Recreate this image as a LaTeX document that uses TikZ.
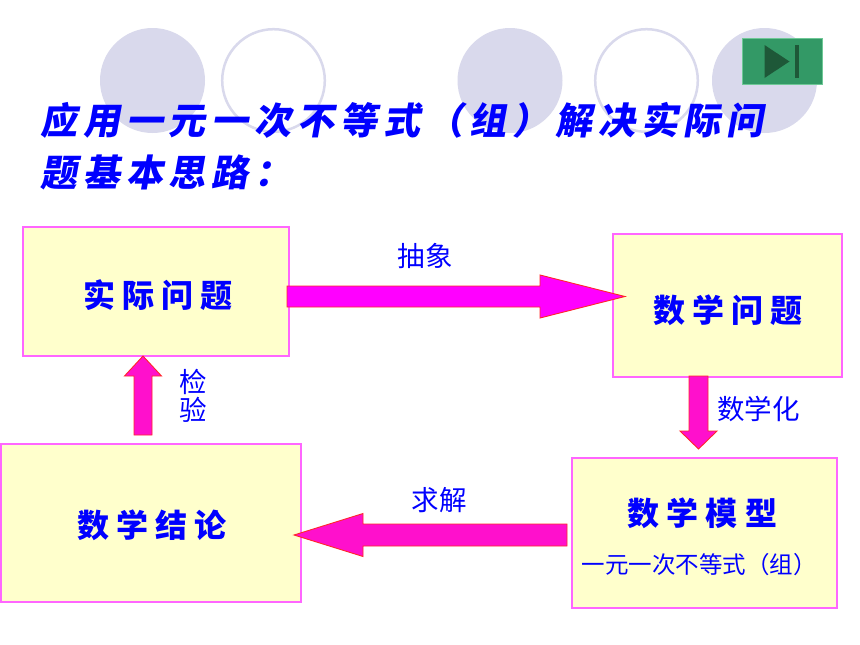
\documentclass[tikz,border=0pt]{standalone}
\usepackage{fontspec}
\usetikzlibrary{calc}
\newfontfamily\cjk{Noto Sans CJK SC}
\newfontfamily\titlefont{Noto Sans CJK SC Black}[FakeSlant=0.18,LetterSpace=16]
\newfontfamily\boxfont{Noto Sans CJK SC Black}[LetterSpace=22]
\definecolor{lav}{RGB}{217,217,236}
\definecolor{boxfill}{RGB}{255,255,204}
\definecolor{boxline}{RGB}{255,102,255}
\definecolor{arrmag}{RGB}{255,0,255}
\definecolor{arrpink}{RGB}{255,16,204}
\definecolor{arrline}{RGB}{255,40,40}
\definecolor{btn}{RGB}{51,153,102}
\definecolor{btnline}{RGB}{110,200,150}
\definecolor{btndark}{RGB}{30,88,56}
\definecolor{txtblue}{RGB}{0,0,255}
% #1 style, #2 start, #3 end, #4 shaft half width, #5 head half width, #6 head length
\newcommand\blockarrow[6]{%
  \coordinate (headbase) at ($(#3)!#6!(#2)$);
  \draw[#1] ($(#2)!#4!90:(#3)$) -- ($(headbase)!#4!90:(#3)$) -- ($(headbase)!#5!90:(#3)$)
    -- (#3) -- ($(headbase)!#5!-90:(#3)$) -- ($(headbase)!#4!-90:(#3)$) -- ($(#2)!#4!-90:(#3)$) -- cycle;
}
\begin{document}
\begin{tikzpicture}[x=1pt,y=-1pt,
  deco/.style={fill=lav,draw=none},
  ring/.style={draw=lav,line width=2.5pt,fill=none},
  box/.style={draw=boxline,fill=boxfill,line width=1.2pt,rectangle,inner sep=0},
  boxtext/.style={font=\boxfont\fontsize{32}{34}\selectfont,text=txtblue,inner sep=0},
  lbl/.style={font=\cjk\fontsize{27.5}{29}\selectfont,text=txtblue,inner sep=0},
  titletext/.style={font=\titlefont\fontsize{37}{40}\selectfont,text=txtblue,inner sep=0,anchor=west},
  barrowA/.style={fill=arrmag,draw=arrline,line width=0.9pt,line join=miter},
  barrowB/.style={fill=arrpink,draw=arrline,line width=0.9pt,line join=miter}]
\useasboundingbox (0,0) rectangle (860,645);
\fill[white] (0,0) rectangle (860,645);
% decorative circles
\fill[deco] (152.5,80.5) circle[radius=52.5];
\draw[ring] (273.5,80.5) circle[radius=51.3];
\fill[deco] (510,80.5) circle[radius=52.5];
\draw[ring] (646.5,80.5) circle[radius=51.3];
\fill[deco] (764.5,80.5) circle[radius=52.5];
% button
\draw[fill=btn,draw=btnline,line width=0.8pt] (742,38) rectangle (822,84);
\fill[btndark] (764.5,45) -- (789.5,61.5) -- (764.5,78) -- cycle;
\fill[btndark] (795,45) rectangle (798.5,78);
% title
\node[titletext] (t1) at (40,120) {应用一元一次不等式（组）解决实际问};
\node[titletext] (t2) at (40,172) {题基本思路：};
% boxes
\node[box,minimum width=266pt,minimum height=129pt] (shiji) at (156,291.5) {};
\node[box,minimum width=229pt,minimum height=143pt] (wenti) at (727.5,305.5) {};
\node[box,minimum width=265pt,minimum height=150pt] (moxing) at (704.5,533) {};
\node[box,minimum width=300pt,minimum height=158pt] (jielun) at (151,523) {};
\node[boxtext] (shijiT) at (158,295) {实际问题};
\node[boxtext] (wentiT) at (728,310) {数学问题};
\node[boxtext] (moxingT) at (702.5,513) {数学模型};
\node[font=\cjk\fontsize{23.5}{25}\selectfont,text=txtblue,inner sep=0] (moxingS) at (699,565) {一元一次不等式（组）};
\node[boxtext] (jielunT) at (152,525) {数学结论};
% arrows
\coordinate (a1s) at (287,296.5);
\coordinate (a1e) at (625,296.5);
\blockarrow{barrowA}{a1s}{a1e}{10.5pt}{21.5pt}{85pt}
\coordinate (a2s) at (698.5,376);
\coordinate (a2e) at (698.5,449);
\blockarrow{barrowB}{a2s}{a2e}{9.5pt}{18.5pt}{18pt}
\coordinate (a3s) at (567,535);
\coordinate (a3e) at (294,535);
\blockarrow{barrowB}{a3s}{a3e}{11pt}{21.5pt}{69pt}
\coordinate (a4s) at (143,435);
\coordinate (a4e) at (143,356);
\blockarrow{barrowB}{a4s}{a4e}{9pt}{18.5pt}{20pt}
% labels
\node[lbl] (chouxiang) at (425,256) {抽象};
\node[lbl] (shuxuehua) at (758.5,408.5) {数学化};
\node[lbl] (qiujie) at (439,500.5) {求解};
\node[lbl,align=center,font=\cjk\fontsize{27.5}{28}\selectfont] (jianyan) at (193.5,395.5) {检\\验};
\end{tikzpicture}
\end{document}
